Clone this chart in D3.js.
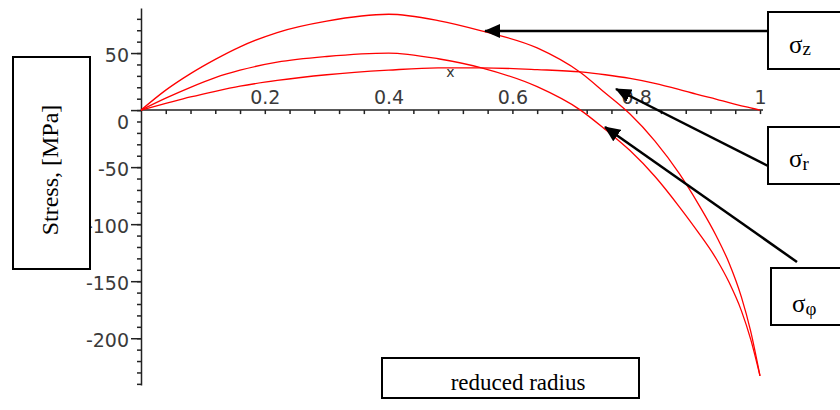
<!DOCTYPE html>
<html lang="en">
<head>
	<meta charset="UTF-8">
	<style>
	body { margin: 0; background: #fff; }
	.tick text { font-family: "DejaVu Sans", sans-serif; font-size: 19px; fill: #3a3a3a; }
	.box { fill: #fff; stroke: #000; stroke-width: 2; }
	.boxtext { font-family: "Liberation Serif", serif; fill: #000; }
	</style>
	<script src="https://d3js.org/d3.v7.min.js"></script>
	<title>Stress vs reduced radius</title>
</head>
<body>
	<div id="chart">
		<script>
			// Values
			const radius = [0, 0.04, 0.08, 0.12, 0.16, 0.22, 0.3, 0.4, 0.48, 0.55, 0.64, 0.71, 0.75, 0.79, 0.83, 0.87, 0.9, 0.93, 0.95, 0.97, 0.985, 1.0];
			const sigmaZ = [0, 17.5, 32, 44.5, 55.5, 68, 78, 84, 78.5, 69.5, 54.5, 33, 15, -3.5, -27, -56, -82, -111, -134, -164, -194, -233];
			const sigmaPhi = [0, 10.5, 20, 28.5, 35, 42, 47, 50, 45, 37, 20.5, 0, -17, -35.5, -58, -85, -107, -131, -151, -176, -201, -233];
			const sigmaR = [0, 5.8, 11.5, 16.5, 21, 26, 31, 35, 37, 37, 35.5, 33.5, 31, 27.8, 23.5, 18, 13.5, 9.5, 6.5, 3.8, 1.9, 0];
			const xTicks = [0.2, 0.4, 0.6, 0.8, 1];
			const yTicks = [-200, -150, -100, -50, 0, 50];

			const svg = d3.select("#chart")
				.append("svg")
				.attr("width", 840)
				.attr("height", 410);

			const x = d3.scaleLinear().domain([0, 1]).range([141, 760]);
			const y = d3.scaleLinear().domain([-241, 89.5]).range([385, 8]);

			// y axis: minor ticks every 10, labelled every 50
			svg.append("g")
				.attr("transform", "translate(" + x(0) + ",0)")
				.call(d3.axisLeft(y).tickValues(d3.range(-240, 90, 10)).tickSize(4).tickSizeOuter(0).tickFormat(""))
				.call(g => g.selectAll("line, path").attr("stroke", "#222").attr("stroke-width", 1.5));
			svg.append("g")
				.attr("transform", "translate(" + x(0) + ",0)")
				.call(d3.axisLeft(y).tickValues(yTicks).tickSize(10).tickPadding(2).tickFormat(d => String(d)))
				.call(g => g.select(".domain").remove())
				.call(g => g.selectAll("line").attr("stroke", "#222").attr("stroke-width", 1.5))
				.call(g => g.selectAll("text").attr("dy", "0.45em"))
				.call(g => g.selectAll(".tick").filter(d => d === 0).select("text").attr("dy", "0.95em"));

			// x axis: ticks below, labels above (Maple style)
			svg.append("g")
				.attr("transform", "translate(0," + y(0) + ")")
				.call(d3.axisBottom(x).tickValues(d3.range(0.04, 1.001, 0.04)).tickSize(4).tickSizeOuter(0).tickFormat(""))
				.call(g => g.select(".domain").attr("d", "M" + x(0) + ",0H" + (x(1) + 3)))
				.call(g => g.selectAll("line, path").attr("stroke", "#222").attr("stroke-width", 1.5));
			svg.append("g")
				.attr("transform", "translate(0," + y(0) + ")")
				.call(d3.axisTop(x).tickValues(xTicks).tickSize(0).tickPadding(6).tickFormat(d => d === 1 ? "1" : d3.format(".1f")(d)))
				.call(g => g.select(".domain").remove());

			svg.append("text")
				.attr("x", x(0.5))
				.attr("y", 77)
				.attr("text-anchor", "middle")
				.style("font-family", "DejaVu Sans, sans-serif")
				.style("font-size", "14px")
				.style("fill", "#333")
				.text("x");

			// the three stress curves
			const line = d3.line()
				.x((d, i) => x(radius[i]))
				.y(d => y(d))
				.curve(d3.curveMonotoneX);

			[sigmaZ, sigmaPhi, sigmaR].forEach(s => {
				svg.append("path")
					.attr("d", line(s))
					.attr("fill", "none")
					.attr("stroke", "#ff0000")
					.attr("stroke-width", 1.3);
			});

			// arrow head
			svg.append("defs").append("marker")
				.attr("id", "head")
				.attr("viewBox", "0 0 16 14")
				.attr("refX", 15)
				.attr("refY", 7)
				.attr("markerWidth", 16)
				.attr("markerHeight", 14)
				.attr("markerUnits", "userSpaceOnUse")
				.attr("orient", "auto")
				.append("path")
				.attr("d", "M0,0L16,7L0,14Z")
				.attr("fill", "#000");

			// callout boxes and arrows
			const callouts = [
				{ name: "z", box: [768, 12], from: [773, 31], to: [485, 31], base: 53, dy: 2 },
				{ name: "r", box: [768, 127], from: [768, 166], to: [616, 89], base: 167, dy: 3 },
				{ name: "\u03c6", box: [771, 268], from: [797, 262], to: [605, 127], base: 312, dy: 3 }
			];
			callouts.forEach(c => {
				svg.append("line")
					.attr("x1", c.from[0]).attr("y1", c.from[1])
					.attr("x2", c.to[0]).attr("y2", c.to[1])
					.attr("stroke", "#000")
					.attr("stroke-width", 2.5)
					.attr("marker-end", "url(#head)");
				svg.append("rect")
					.attr("class", "box")
					.attr("x", c.box[0]).attr("y", c.box[1])
					.attr("width", 80).attr("height", 57);
				const t = svg.append("text")
					.attr("class", "boxtext")
					.attr("x", c.box[0] + 21)
					.attr("y", c.base);
				t.append("tspan").style("font-size", "25px").text("\u03c3");
				t.append("tspan").style("font-size", "19px").attr("dy", c.dy).text(c.name);
			});

			// axis title boxes
			svg.append("rect").attr("class", "box")
				.attr("x", 13).attr("y", 57).attr("width", 77).attr("height", 212);
			svg.append("text")
				.attr("class", "boxtext")
				.attr("transform", "translate(58,170) rotate(-90)")
				.attr("text-anchor", "middle")
				.style("font-size", "24px")
				.text("Stress, [MPa]");

			svg.append("rect").attr("class", "box")
				.attr("x", 382).attr("y", 358).attr("width", 257).attr("height", 40);
			svg.append("text")
				.attr("class", "boxtext")
				.attr("x", 518)
				.attr("y", 390)
				.attr("text-anchor", "middle")
				.style("font-size", "23px")
				.text("reduced radius");
		</script>
	</div>
</body>
</html>
